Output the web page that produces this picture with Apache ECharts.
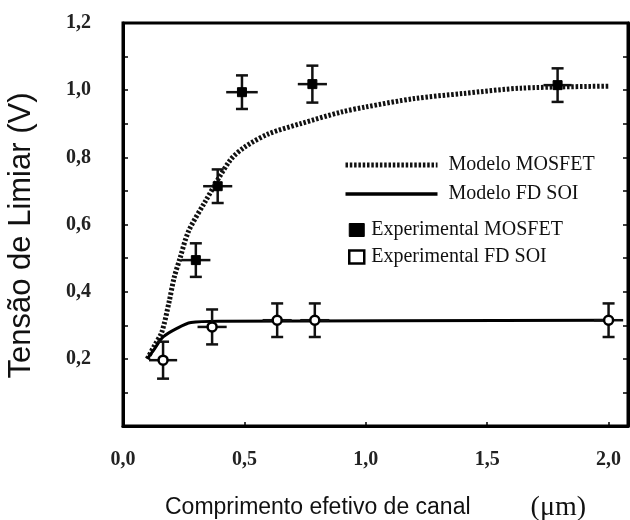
<!DOCTYPE html>
<html>
<head>
<meta charset="utf-8">
<script src="https://cdn.jsdelivr.net/npm/echarts@6/dist/echarts.min.js"></script>
<style>
  html, body { margin: 0; padding: 0; background: #fff; }
  #chart { width: 630px; height: 520px; }
</style>
</head>
<body>
<div id="chart"></div>
<script>
// Tensão de limiar vs. comprimento efetivo de canal (MOSFET x FD SOI)

// Curva do modelo MOSFET (µm, V)
const mosfetModelX = [0.10, 0.13, 0.16, 0.19, 0.21, 0.235, 0.27, 0.34, 0.44, 0.50, 0.60, 0.73, 0.90, 1.00, 1.20, 1.40, 1.64, 2.00];
const mosfetModelY = [0.20, 0.24, 0.28, 0.37, 0.44, 0.50, 0.58, 0.67, 0.79, 0.83, 0.87, 0.90, 0.935, 0.95, 0.975, 0.99, 1.006, 1.012];

// Curva do modelo FD SOI
const soiModelX = [0.10, 0.13, 0.165, 0.22, 0.28, 0.40, 2.00];
const soiModelY = [0.20, 0.23, 0.265, 0.29, 0.308, 0.312, 0.315];

// Pontos experimentais MOSFET, com barras de erro
const mosfetExpX = [0.30, 0.39, 0.49, 0.78, 1.79];
const mosfetExpY = [0.494, 0.714, 0.994, 1.018, 1.015];
const mosfetErrX = [0.06, 0.06, 0.065, 0.06, 0.058];
const mosfetErrY = [0.05, 0.05, 0.05, 0.055, 0.05];

// Pontos experimentais FD SOI, com barras de erro
const soiExpX = [0.165, 0.367, 0.635, 0.79, 2.00];
const soiExpY = [0.196, 0.295, 0.315, 0.315, 0.315];
const soiErrX = [0.058, 0.06, 0.06, 0.06, 0.06];
const soiErrY = [0.055, 0.052, 0.05, 0.05, 0.05];

// Eixos
const xTicks = [0, 0.5, 1.0, 1.5, 2.0];
const yTicks = [0.2, 0.4, 0.6, 0.8, 1.0, 1.2];

const legendModels = ['Modelo MOSFET', 'Modelo FD SOI'];
const legendExp = ['Experimental MOSFET', 'Experimental FD SOI'];

const zip = (a, b) => a.map((v, i) => [v, b[i]]);
const withErr = (xs, ys, ex, ey) => xs.map((v, i) => [v, ys[i], ex[i], ey[i]]);
const fmt = v => v.toFixed(1).replace('.', ',');

// Estilos das curvas dos modelos (também usados na legenda)
const mosfetLine = { color: '#111', width: 5, type: [2.5, 1.8] };
const soiLine = { color: '#000', width: 3, type: 'solid' };

function renderErrorBar(params, api) {
  const x = api.value(0), y = api.value(1), dx = api.value(2), dy = api.value(3);
  const top = api.coord([x, y + dy]);
  const bot = api.coord([x, y - dy]);
  const left = api.coord([x - dx, y]);
  const right = api.coord([x + dx, y]);
  const cap = 6;
  const style = { stroke: '#111', lineWidth: 2.5 };
  return {
    type: 'group',
    children: [
      { type: 'line', shape: { x1: top[0], y1: top[1], x2: bot[0], y2: bot[1] }, style },
      { type: 'line', shape: { x1: top[0] - cap, y1: top[1], x2: top[0] + cap, y2: top[1] }, style },
      { type: 'line', shape: { x1: bot[0] - cap, y1: bot[1], x2: bot[0] + cap, y2: bot[1] }, style },
      { type: 'line', shape: { x1: left[0], y1: left[1], x2: right[0], y2: right[1] }, style }
    ]
  };
}

const tickFont = { fontFamily: 'Liberation Serif', fontWeight: 'bold', fontSize: 20, color: '#222' };

const yAxisBase = {
  type: 'value',
  min: 0, max: 1.2, interval: 0.2,
  axisLine: { show: true, lineStyle: { color: '#000', width: 3 } },
  axisTick: { show: true, inside: true, length: 5, lineStyle: { color: '#000', width: 1.5 } },
  minorTick: { show: true, splitNumber: 2, length: 5, lineStyle: { color: '#000', width: 1.5 } },
  splitLine: { show: false },
  minorSplitLine: { show: false }
};

const chart = echarts.init(document.getElementById('chart'));
chart.setOption({
  animation: false,
  backgroundColor: '#fff',
  grid: {
    left: 123, right: 2, top: 23, bottom: 94,
    outerBoundsMode: 'none', containLabel: false,
    show: true, borderColor: '#000', borderWidth: 3
  },
  xAxis: {
    type: 'value',
    min: 0, max: 2.08, interval: 0.5,
    axisLine: { show: true, onZero: false, lineStyle: { color: '#000', width: 3 } },
    axisTick: { show: true, inside: true, length: 4, lineStyle: { color: '#000', width: 1.5 } },
    splitLine: { show: false },
    axisLabel: {
      ...tickFont, margin: 24, showMaxLabel: false,
      formatter: v => xTicks.some(t => Math.abs(t - v) < 1e-6) ? fmt(v) : ''
    },
    name: '{a|Comprimento efetivo de canal}{g|}{b|(μm)}',
    nameLocation: 'middle',
    nameGap: 68,
    nameTextStyle: {
      rich: {
        a: { fontFamily: 'Liberation Sans', fontSize: 23, color: '#111' },
        g: { width: 60 },
        b: { fontFamily: 'Liberation Serif', fontSize: 28, color: '#111' }
      }
    }
  },
  yAxis: [
    {
      ...yAxisBase,
      position: 'left',
      axisLabel: {
        ...tickFont, margin: 32,
        formatter: v => yTicks.some(t => Math.abs(t - v) < 1e-6) ? fmt(v) : ''
      },
      name: 'Tensão de Limiar (V)',
      nameLocation: 'middle',
      nameGap: 86,
      nameTextStyle: { fontFamily: 'Liberation Sans', fontSize: 31, color: '#111', padding: [0, 22, 0, 0] }
    },
    {
      ...yAxisBase,
      position: 'right',
      axisLabel: { show: false }
    }
  ],
  legend: [
    {
      data: [
        { name: legendModels[0], itemStyle: { opacity: 0 }, lineStyle: mosfetLine },
        { name: legendModels[1], itemStyle: { opacity: 0 }, lineStyle: { ...soiLine, width: 3.5 } }
      ],
      orient: 'vertical',
      left: 338, top: 150,
      itemWidth: 92, itemHeight: 14, itemGap: 9,
      textStyle: { fontFamily: 'Liberation Serif', fontSize: 20, color: '#111', padding: [0, 0, 0, 6] }
    },
    {
      data: [
        { name: legendExp[0], icon: 'rect', itemStyle: { color: '#000', borderColor: '#000', borderWidth: 1 } },
        { name: legendExp[1], icon: 'rect', itemStyle: { color: '#fff', borderColor: '#000', borderWidth: 2.5 } }
      ],
      orient: 'vertical',
      left: 343, top: 215,
      itemWidth: 15, itemHeight: 13, itemGap: 7,
      textStyle: { fontFamily: 'Liberation Serif', fontSize: 20, color: '#111', padding: [0, 0, 0, 2] }
    }
  ],
  series: [
    {
      name: legendModels[0],
      type: 'line',
      data: zip(mosfetModelX, mosfetModelY),
      smooth: 0.3,
      symbol: 'none',
      itemStyle: { color: '#111' },
      lineStyle: mosfetLine,
      z: 2
    },
    {
      name: legendModels[1],
      type: 'line',
      data: zip(soiModelX, soiModelY),
      smooth: 0.3,
      symbol: 'none',
      itemStyle: { color: '#000' },
      lineStyle: soiLine,
      z: 2
    },
    {
      name: 'barras MOSFET',
      type: 'custom',
      renderItem: renderErrorBar,
      data: withErr(mosfetExpX, mosfetExpY, mosfetErrX, mosfetErrY),
      encode: { x: 0, y: 1 },
      z: 3
    },
    {
      name: 'barras FD SOI',
      type: 'custom',
      renderItem: renderErrorBar,
      data: withErr(soiExpX, soiExpY, soiErrX, soiErrY),
      encode: { x: 0, y: 1 },
      z: 3
    },
    {
      name: legendExp[0],
      type: 'scatter',
      data: zip(mosfetExpX, mosfetExpY),
      symbol: 'rect',
      symbolSize: 9,
      itemStyle: { color: '#000', borderColor: '#000', borderWidth: 1, opacity: 1 },
      z: 4
    },
    {
      name: legendExp[1],
      type: 'scatter',
      data: zip(soiExpX, soiExpY),
      symbol: 'circle',
      symbolSize: 9,
      itemStyle: { color: '#fff', borderColor: '#000', borderWidth: 2.5, opacity: 1 },
      z: 4
    }
  ]
});
</script>
</body>
</html>
